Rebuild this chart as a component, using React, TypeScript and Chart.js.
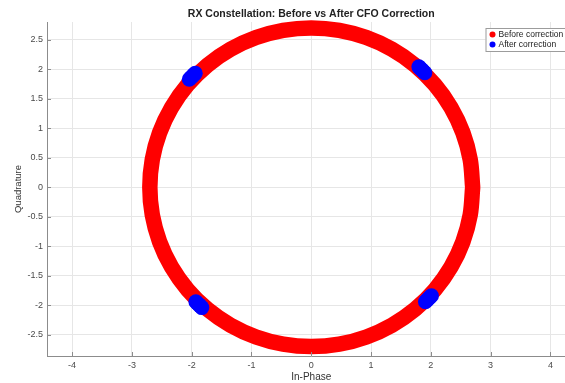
import { useEffect, useRef } from "react";
import { Chart, registerables } from "chart.js";

Chart.register(...registerables);

const TITLE = "RX Constellation: Before vs After CFO Correction";
const X_LABEL = "In-Phase";
const Y_LABEL = "Quadrature";
const SERIES_NAMES = ["Before correction", "After correction"];

// Received symbols before CFO correction: the phase drift smears them round the ring
const BEFORE_I = [
  2.7, 2.659, 2.537, 2.338, 2.068, 1.736, 1.35, 0.923, 0.469, 0.0,
  -0.469, -0.923, -1.35, -1.736, -2.068, -2.338, -2.537, -2.659, -2.7, -2.659,
  -2.537, -2.338, -2.068, -1.736, -1.35, -0.923, -0.469, 0.0, 0.469, 0.923,
  1.35, 1.736, 2.068, 2.338, 2.537, 2.659, 2.7,
];
const BEFORE_Q = [
  0.0, 0.469, 0.923, 1.35, 1.736, 2.068, 2.338, 2.537, 2.659, 2.7,
  2.659, 2.537, 2.338, 2.068, 1.736, 1.35, 0.923, 0.469, 0.0, -0.469,
  -0.923, -1.35, -1.736, -2.068, -2.338, -2.537, -2.659, -2.7, -2.659, -2.537,
  -2.338, -2.068, -1.736, -1.35, -0.923, -0.469, 0.0,
];

// Symbols after CFO correction: four tight QPSK clusters
const AFTER_I = [
  1.8, 1.825, 1.85, 1.875, 1.9,
  -2.04, -2.015, -1.99, -1.965, -1.94,
  1.91, 1.935, 1.96, 1.985, 2.01,
  -1.93, -1.905, -1.88, -1.855, -1.83,
];
const AFTER_Q = [
  2.04, 2.015, 1.99, 1.965, 1.94,
  1.83, 1.855, 1.88, 1.905, 1.93,
  -1.94, -1.915, -1.89, -1.865, -1.84,
  -1.94, -1.965, -1.99, -2.015, -2.04,
];

const X_TICKS = [-4, -3, -2, -1, 0, 1, 2, 3, 4];
const Y_TICKS = [-2.5, -2, -1.5, -1, -0.5, 0, 0.5, 1, 1.5, 2, 2.5];

const FONT = '"Liberation Sans", Arial, Helvetica, sans-serif';
const RED = "#ff0000";
const BLUE = "#0000ff";
const GRID = "#e6e6e6";
const AXIS = "#8c8c8c";
const TICK_TEXT = "#4a4a4a";
const LABEL_TEXT = "#333333";

// Inward tick marks and a boxed legend inside the top-right of the plot
const axesDecor = {
  id: "axesDecor",
  afterDraw(chart: any) {
    const { ctx, chartArea, scales } = chart;
    const xs = scales.x;
    const ys = scales.y;
    ctx.save();
    ctx.strokeStyle = AXIS;
    ctx.lineWidth = 1;
    ctx.beginPath();
    for (const t of X_TICKS) {
      const px = Math.round(xs.getPixelForValue(t)) + 0.5;
      ctx.moveTo(px, chartArea.bottom);
      ctx.lineTo(px, chartArea.bottom - 4);
    }
    for (const t of Y_TICKS) {
      const py = Math.round(ys.getPixelForValue(t)) + 0.5;
      ctx.moveTo(chartArea.left, py);
      ctx.lineTo(chartArea.left + 4, py);
    }
    ctx.stroke();

    const colors = [RED, BLUE];
    ctx.font = `8.5px ${FONT}`;
    const textW = Math.max(...SERIES_NAMES.map((s) => ctx.measureText(s).width));
    const left = chartArea.right - 90;
    const top = chartArea.top + 6;
    const boxW = 13 + textW + 8;
    const boxH = 23;
    ctx.fillStyle = "#ffffff";
    ctx.fillRect(left, top, boxW, boxH);
    ctx.strokeStyle = "#9c9c9c";
    ctx.strokeRect(left + 0.5, top + 0.5, boxW, boxH);
    SERIES_NAMES.forEach((name, i) => {
      const cy = top + 6.5 + i * 10;
      ctx.fillStyle = colors[i];
      ctx.beginPath();
      ctx.arc(left + 7, cy, 3, 0, Math.PI * 2);
      ctx.fill();
      ctx.fillStyle = "#222222";
      ctx.textBaseline = "middle";
      ctx.textAlign = "left";
      ctx.fillText(name, left + 13, cy + 0.5);
    });
    ctx.restore();
  },
};

export default function App() {
  const canvasRef = useRef<HTMLCanvasElement | null>(null);

  useEffect(() => {
    const canvas = canvasRef.current;
    if (!canvas) return;
    const before = BEFORE_I.map((x, i) => ({ x, y: BEFORE_Q[i] }));
    const after = AFTER_I.map((x, i) => ({ x, y: AFTER_Q[i] }));

    const chart = new Chart(canvas, {
      type: "scatter",
      data: {
        datasets: [
          {
            label: SERIES_NAMES[1],
            data: after,
            backgroundColor: BLUE,
            borderColor: BLUE,
            borderWidth: 0,
            pointRadius: 7.5,
            order: 0,
            clip: false,
          },
          {
            label: SERIES_NAMES[0],
            data: before,
            showLine: true,
            borderColor: RED,
            backgroundColor: RED,
            borderWidth: 15.5,
            borderJoinStyle: "round",
            borderCapStyle: "round",
            pointRadius: 0,
            tension: 0.335,
            capBezierPoints: false,
            order: 1,
            clip: false,
          },
        ],
      },
      options: {
        animation: false,
        responsive: false,
        events: [],
        layout: { padding: 0 },
        plugins: {
          legend: { display: false },
          tooltip: { enabled: false },
          title: {
            display: true,
            text: TITLE,
            fullSize: false,
            color: "#222222",
            font: { family: FONT, size: 10.5, weight: "bold" },
            padding: { top: 8, bottom: 1.4 },
          },
        },
        scales: {
          x: {
            type: "linear",
            min: -4.42,
            max: 4.42,
            afterBuildTicks: (s: any) => {
              s.ticks = X_TICKS.map((v) => ({ value: v }));
            },
            afterFit: (s: any) => {
              s.height = 27;
            },
            grid: { color: GRID, drawTicks: false },
            border: { color: AXIS, width: 1 },
            ticks: {
              padding: 4,
              color: TICK_TEXT,
              font: { family: FONT, size: 9 },
              callback: (v: any) => String(v),
            },
            title: {
              display: true,
              text: X_LABEL,
              color: LABEL_TEXT,
              font: { family: FONT, size: 10 },
              padding: { top: 0, bottom: 0 },
            },
          },
          y: {
            type: "linear",
            min: -2.86,
            max: 2.8,
            afterBuildTicks: (s: any) => {
              s.ticks = Y_TICKS.map((v) => ({ value: v }));
            },
            afterFit: (s: any) => {
              s.width = 47;
            },
            grid: { color: GRID, drawTicks: false },
            border: { color: AXIS, width: 1 },
            ticks: {
              padding: 4,
              color: TICK_TEXT,
              font: { family: FONT, size: 9 },
              callback: (v: any) => String(v),
            },
            title: {
              display: true,
              text: Y_LABEL,
              color: LABEL_TEXT,
              font: { family: FONT, size: 9.5 },
              padding: { top: 12.5, bottom: 0 },
            },
          },
        },
      },
      plugins: [axesDecor],
    });

    return () => chart.destroy();
  }, []);

  return (
    <div
      style={{
        position: "fixed",
        left: 0,
        top: 0,
        width: 565,
        height: 383,
        overflow: "hidden",
        background: "#ffffff",
      }}
    >
      <canvas
        ref={canvasRef}
        width={583}
        height={383}
        style={{ display: "block", width: 583, height: 383 }}
      />
    </div>
  );
}
